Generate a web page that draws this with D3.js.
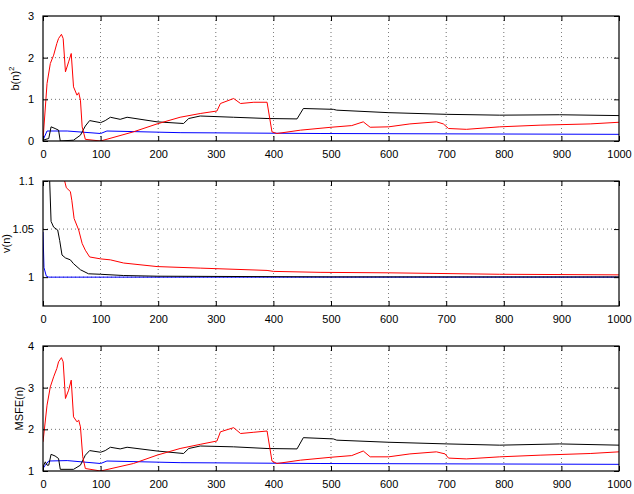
<!DOCTYPE html>
<html>
<head>
<meta charset="utf-8">
<script src="https://cdn.jsdelivr.net/npm/d3@7"></script>
<style>
  body { margin: 0; background: #fff; }
  svg { display: block; font-family: "Liberation Sans", Arial, sans-serif; }
</style>
</head>
<body>
<div id="chartContainer"></div>
<script>
// x ticks shared by all panels
const xTicks = [0, 100, 200, 300, 400, 500, 600, 700, 800, 900, 1000];

// panel 1: b(n)^2
const bTicks = [0, 1, 2, 3];
const bRed = [[0, 0.02], [3, 0.6], [7, 1.38], [12.7, 1.86], [18.5, 2.06], [24, 2.34], [27, 2.46], [32, 2.56],
  [35, 2.46], [39, 1.66], [44.5, 1.9], [49, 2.1], [53, 1.3], [59, 1.1], [62, 1.16], [65, 0.98], [68, 0.34],
  [73.5, 0.04], [100, 0.0], [157, 0.22], [198, 0.41], [238, 0.57], [273, 0.66], [302, 0.72], [308, 0.9],
  [331, 1.02], [343, 0.9], [366, 0.93], [389, 0.93], [397.5, 0.22], [406, 0.18], [447, 0.26], [500, 0.33],
  [536, 0.37], [556, 0.46], [568, 0.33], [600, 0.34], [637, 0.41], [683, 0.46], [695, 0.41], [704, 0.3],
  [735, 0.28], [793, 0.34], [863, 0.38], [950, 0.41], [1000, 0.45]];
const bBlack = [[0, 0.02], [10, 0.06], [14, 0.34], [21, 0.3], [27, 0.26], [30, 0.0], [53, 0.02], [65, 0.14],
  [73.5, 0.36], [81, 0.49], [100, 0.44], [108, 0.49], [117, 0.57], [134, 0.52], [146, 0.57], [198, 0.46],
  [244, 0.42], [253, 0.54], [273, 0.6], [331, 0.57], [389, 0.54], [441, 0.53], [452, 0.78], [504, 0.76],
  [510, 0.74], [600, 0.68], [701, 0.64], [793, 0.62], [897, 0.63], [1000, 0.61]];
const bBlue = [[0, 0.02], [7, 0.24], [42, 0.24], [100, 0.18], [111, 0.24], [238, 0.2], [481, 0.18], [1000, 0.16]];

// panel 2: v(n)
const vTicks = [1, 1.05, 1.1];
const vRed = [[0, 1.6], [10, 1.35], [20, 1.22], [30, 1.14], [37.6, 1.1], [40.5, 1.093], [47.5, 1.089], [50, 1.08],
  [54, 1.061], [62, 1.049], [68, 1.035], [73.5, 1.028], [81, 1.021], [100, 1.019], [117, 1.018], [140, 1.0147],
  [198, 1.011], [273, 1.0094], [389, 1.007], [400, 1.006], [481, 1.005], [600, 1.0045], [793, 1.003], [1000, 1.0024]];
const vBlack = [[0, 1.4], [5, 1.2], [11.6, 1.1], [14, 1.058], [18.5, 1.052], [25.5, 1.049], [29, 1.038], [33, 1.023],
  [39, 1.02], [47.5, 1.018], [53, 1.014], [65, 1.0077], [79, 1.0035], [100, 1.003], [140, 1.0017], [198, 1.001],
  [500, 1.0003], [1000, 1.0002]];
const vBlue = [[0, 1.047], [1.7, 1.01], [5.8, 1.001], [10, 1.0], [1000, 1.0]];

// panel 3: MSFE(n)
const mTicks = [1, 2, 3, 4];
const mRed = [[0, 1.7], [7, 2.58], [12.7, 3.02], [18.5, 3.26], [24, 3.46], [27, 3.62], [32, 3.72], [35, 3.62],
  [39, 2.74], [44.5, 2.94], [49, 3.18], [53, 2.3], [59, 2.18], [62, 2.22], [65, 2.06], [69, 1.34], [73.5, 1.06],
  [100, 1.0], [157, 1.18], [198, 1.38], [238, 1.54], [273, 1.64], [302, 1.72], [308, 1.94], [331, 2.04], [343, 1.9],
  [366, 1.93], [389, 1.96], [397.5, 1.24], [406, 1.18], [447, 1.26], [500, 1.33], [536, 1.37], [556, 1.48],
  [568, 1.34], [600, 1.34], [637, 1.41], [683, 1.46], [698, 1.41], [704, 1.31], [735, 1.29], [793, 1.34],
  [863, 1.38], [950, 1.42], [1000, 1.46]];
const mBlack = [[0, 1.1], [4, 1.22], [7, 1.14], [10, 1.14], [14, 1.4], [21, 1.36], [27, 1.3], [30, 1.04], [53, 1.04],
  [65, 1.14], [73.5, 1.38], [81, 1.49], [100, 1.45], [108, 1.49], [117, 1.57], [134, 1.53], [146, 1.57], [198, 1.48],
  [244, 1.42], [253, 1.54], [273, 1.6], [331, 1.58], [389, 1.54], [441, 1.53], [452, 1.8], [504, 1.77], [510, 1.74],
  [600, 1.69], [701, 1.65], [793, 1.62], [897, 1.65], [1000, 1.62]];
const mBlue = [[0, 1.06], [4, 1.14], [10, 1.24], [42, 1.25], [100, 1.18], [111, 1.24], [238, 1.2], [481, 1.18], [1000, 1.16]];

const width = 634;
const height = 494;
const left = 43, right = 619;

const panels = [
  { top: 16, bottom: 141, domain: [0, 3], ticks: bTicks, fmt: d => d, label: 'b(n)', sup: '2', labelX: 19,
    series: [[bBlue, '#0000ff'], [bBlack, '#000'], [bRed, '#ff0000']] },
  { top: 181, bottom: 306, domain: [0.97, 1.1], ticks: vTicks, fmt: d => d, label: 'v(n)', labelX: 10,
    series: [[vRed, '#ff0000'], [vBlue, '#0000ff'], [vBlack, '#000']] },
  { top: 346, bottom: 471, domain: [1, 4], ticks: mTicks, fmt: d => d, label: 'MSFE(n)', labelX: 23,
    series: [[mBlue, '#0000ff'], [mBlack, '#000'], [mRed, '#ff0000']] }
];

const svg = d3.select('#chartContainer')
  .append('svg')
  .attr('width', width)
  .attr('height', height)
  .style('font-size', '11px');

const scX = d3.scaleLinear().domain([0, 1000]).range([left, right]);

panels.forEach((p, i) => {
  const scY = d3.scaleLinear().domain(p.domain).range([p.bottom, p.top]);
  const g = svg.append('g');

  // clip
  svg.append('clipPath').attr('id', 'clip' + i)
    .append('rect').attr('x', left).attr('y', p.top)
    .attr('width', right - left).attr('height', p.bottom - p.top);

  // grid
  g.append('g').selectAll('line').data(xTicks.slice(1, -1)).join('line')
    .attr('x1', d => scX(d)).attr('x2', d => scX(d))
    .attr('y1', p.top).attr('y2', p.bottom)
    .attr('stroke', '#000').attr('stroke-width', 0.8).attr('stroke-dasharray', '1,3').attr('opacity', 0.7);
  g.append('g').selectAll('line').data(p.ticks.filter(t => scY(t) > p.top + 1 && scY(t) < p.bottom - 1)).join('line')
    .attr('y1', d => scY(d)).attr('y2', d => scY(d))
    .attr('x1', left).attr('x2', right)
    .attr('stroke', '#000').attr('stroke-width', 0.8).attr('stroke-dasharray', '1,3').attr('opacity', 0.7);

  // lines
  const lineMaker = d3.line().x(d => scX(d[0])).y(d => scY(d[1]));
  const lg = g.append('g').attr('clip-path', `url(#clip${i})`);
  p.series.forEach(([data, color]) => {
    lg.append('path')
      .attr('fill', 'none')
      .attr('stroke', color)
      .attr('stroke-width', 1)
      .attr('stroke-linejoin', 'round')
      .attr('d', lineMaker(data));
  });

  // axes (ticks inside, on all four sides)
  g.append('g').attr('transform', `translate(0,${p.bottom})`)
    .call(d3.axisBottom(scX).tickValues(xTicks).tickSize(-5).tickPadding(9).tickFormat(d => d))
    .call(a => a.select('.domain').remove());
  g.append('g').attr('transform', `translate(0,${p.top})`)
    .call(d3.axisTop(scX).tickValues(xTicks).tickSize(-5).tickFormat(''))
    .call(a => a.select('.domain').remove());
  g.append('g').attr('transform', `translate(${left},0)`)
    .call(d3.axisLeft(scY).tickValues(p.ticks).tickSize(-5).tickPadding(9).tickFormat(p.fmt))
    .call(a => a.select('.domain').remove());
  g.append('g').attr('transform', `translate(${right},0)`)
    .call(d3.axisRight(scY).tickValues(p.ticks).tickSize(-5).tickFormat(''))
    .call(a => a.select('.domain').remove());

  g.selectAll('.tick text').attr('fill', '#000').style('font-size', '11px')
    .style('font-family', '"Liberation Sans", Arial, sans-serif');

  // box
  g.append('rect').attr('x', left).attr('y', p.top)
    .attr('width', right - left).attr('height', p.bottom - p.top)
    .attr('fill', 'none').attr('stroke', '#000').attr('stroke-width', 1.2);

  // y label
  const t = g.append('text')
    .attr('transform', `translate(${p.labelX},${(p.top + p.bottom) / 2}) rotate(-90)`)
    .attr('text-anchor', 'middle')
    .style('font-size', '11px')
    .text(p.label);
  if (p.sup) {
    t.append('tspan').attr('dy', -5).style('font-size', '8px').text(p.sup);
  }
});
</script>
</body>
</html>
